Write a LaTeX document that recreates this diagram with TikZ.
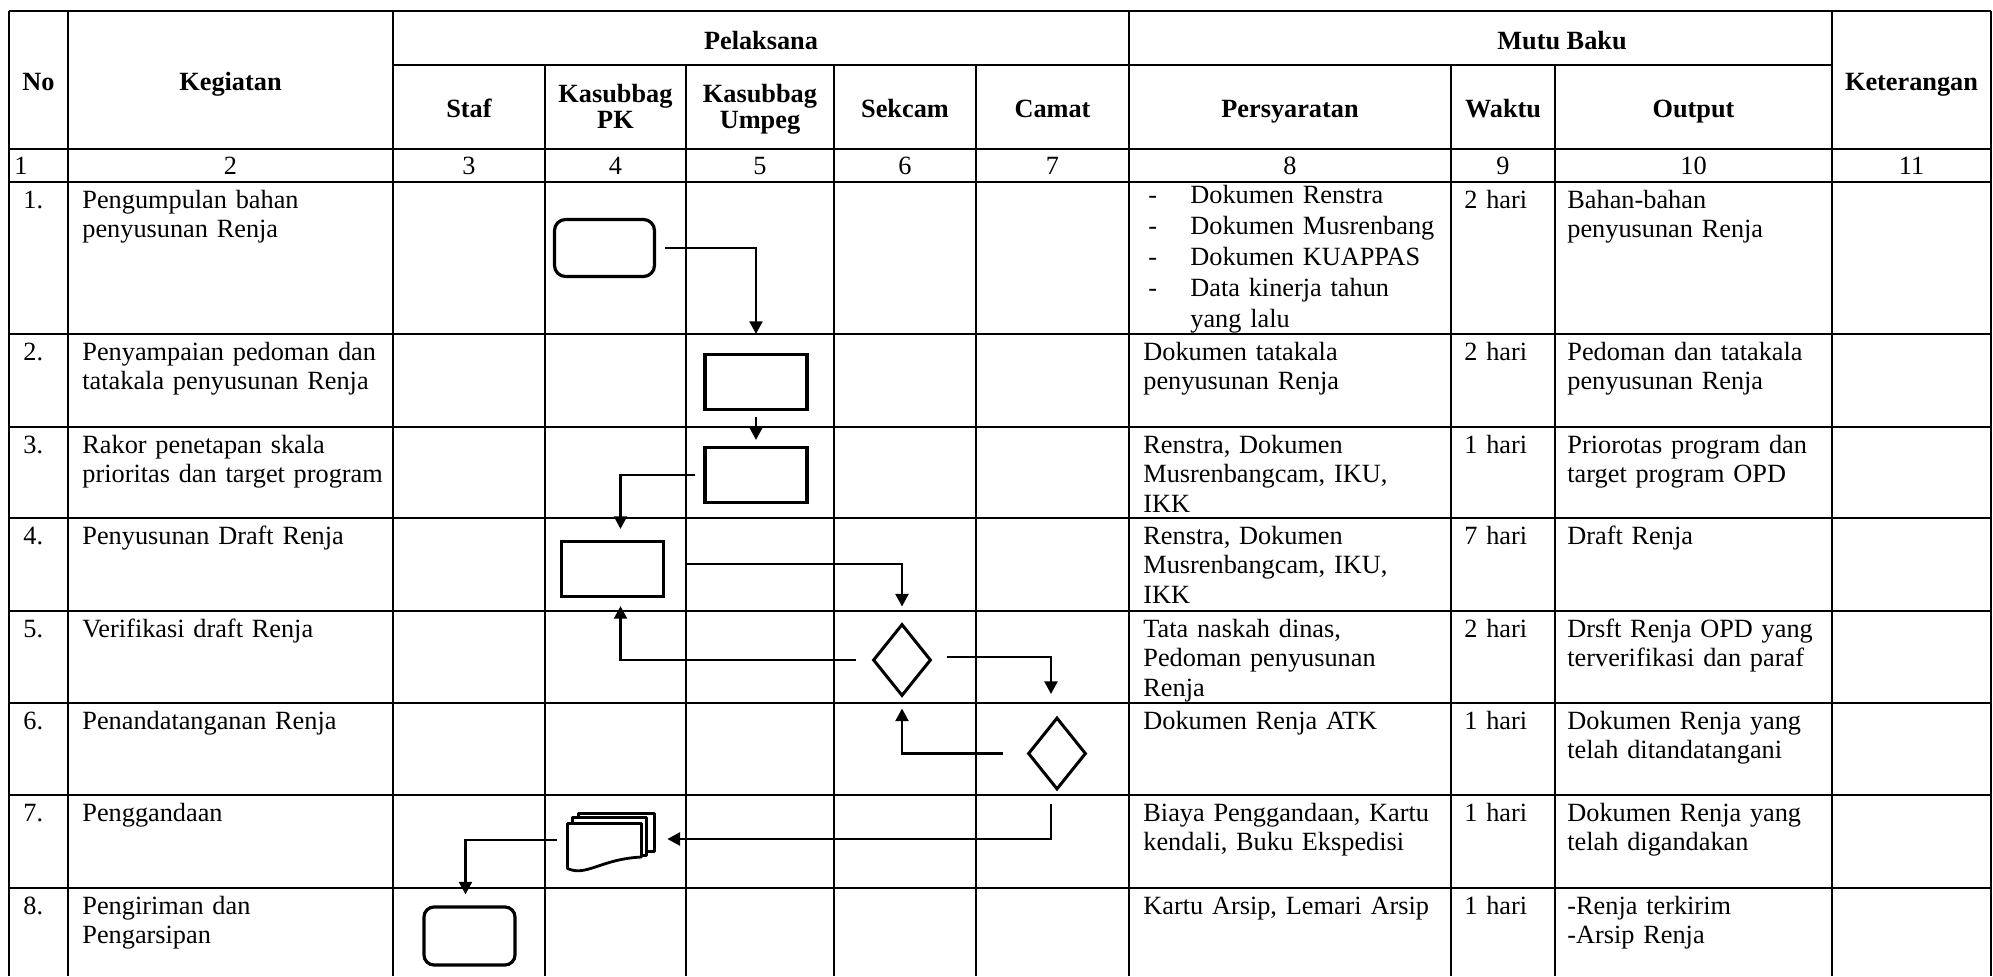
\documentclass[tikz,border=0pt]{standalone}
\usepackage{fontspec}
\setmainfont{Liberation Serif}
\usetikzlibrary{arrows.meta,shapes.geometric}
\begin{document}
\begin{tikzpicture}[x=0.5pt,y=-0.5pt,
  tl/.style={line width=0.75pt},
  txt/.style={anchor=base west, inner sep=0pt, align=left, font=\fontsize{13.15pt}{14.8pt}\selectfont},
  hd/.style={anchor=base, inner sep=0pt, align=center, font=\fontsize{13.15pt}{13.3pt}\selectfont\bfseries},
  num/.style={anchor=base, inner sep=0pt, font=\fontsize{13.15pt}{14.8pt}\selectfont},
  proc/.style={draw, line width=1.6pt, inner sep=0pt, minimum width=51pt, minimum height=27.5pt},
  term/.style={proc, rounded corners=5.5pt},
  dec/.style={draw, diamond, line width=1.5pt, inner sep=0pt, minimum width=29pt, minimum height=36pt},
  arr/.style={line width=1.15pt, -{Triangle[length=6.3pt,width=6.5pt]}},
]
\useasboundingbox (0,0) rectangle (1993,976);

% ---------- table rules ----------
\draw[tl] (9,11) -- (1991,11);
\draw[tl] (393,65) -- (1832,65);
\foreach \y in {149,182,334,427,518,611,703,795,888} \draw[tl] (9,\y) -- (1991,\y);
\foreach \x in {9,68,393,1129,1832,1991} \draw[tl] (\x,11) -- (\x,976);
\foreach \x in {545,686,834,976,1451,1555} \draw[tl] (\x,65) -- (\x,976);

% ---------- header ----------
\node[hd] (hNo) at (38.5,90) {No};
\node[hd] (hKeg) at (230.5,90) {Kegiatan};
\node[hd] (hPel) at (761,49) {Pelaksana};
\node[hd] (hMutu) at (1562,49) {Mutu Baku};
\node[hd] (hKet) at (1911.5,90) {Keterangan};
\node[hd] (hStaf) at (469,117) {Staf};
\node[hd, text width=70pt] (hPK) at (615.5,102) {Kasubbag\\PK};
\node[hd, text width=70pt] (hUm) at (760,102) {Kasubbag\\Umpeg};
\node[hd] (hSek) at (905,117) {Sekcam};
\node[hd] (hCam) at (1052.5,117) {Camat};
\node[hd] (hPers) at (1290,117) {Persyaratan};
\node[hd] (hWak) at (1503,117) {Waktu};
\node[hd] (hOut) at (1693.5,117) {Output};

% ---------- column numbers ----------
\node[num, anchor=base west] (n1) at (14,174) {1};
\node[num] (n2) at (230.5,174) {2};
\node[num] (n3) at (469,174) {3};
\node[num] (n4) at (615.5,174) {4};
\node[num] (n5) at (760,174) {5};
\node[num] (n6) at (905,174) {6};
\node[num] (n7) at (1052.5,174) {7};
\node[num] (n8) at (1290,174) {8};
\node[num] (n9) at (1503,174) {9};
\node[num] (n10) at (1693.5,174) {10};
\node[num] (n11) at (1911.5,174) {11};

% ---------- No column ----------
\node[txt, text width=20pt] (no1) at (23,208) {1.};
\node[txt, text width=20pt] (no2) at (23,360) {2.};
\node[txt, text width=20pt] (no3) at (23,453) {3.};
\node[txt, text width=20pt] (no4) at (23,544) {4.};
\node[txt, text width=20pt] (no5) at (23,637) {5.};
\node[txt, text width=20pt] (no6) at (23,729) {6.};
\node[txt, text width=20pt] (no7) at (23,821) {7.};
\node[txt, text width=20pt] (no8) at (23,914) {8.};

% ---------- Kegiatan ----------
\node[txt, text width=155pt] (k1) at (82,208) {Pengumpulan bahan\\penyusunan Renja};
\node[txt, text width=155pt] (k2) at (82,360) {Penyampaian pedoman dan\\tatakala penyusunan Renja};
\node[txt, text width=155pt] (k3) at (82,453) {Rakor penetapan skala\\prioritas dan target program};
\node[txt, text width=155pt] (k4) at (82,544) {Penyusunan Draft Renja};
\node[txt, text width=155pt] (k5) at (82,637) {Verifikasi draft Renja};
\node[txt, text width=155pt] (k6) at (82,729) {Penandatanganan Renja};
\node[txt, text width=155pt] (k7) at (82,821) {Penggandaan};
\node[txt, text width=155pt] (k8) at (82,914) {Pengiriman dan\\Pengarsipan};

% ---------- Persyaratan ----------
\node[txt, text width=155pt, font=\fontsize{13.15pt}{15.5pt}\selectfont] (p1) at (1148,203)
  {\makebox[21pt][l]{-}Dokumen Renstra\\\makebox[21pt][l]{-}Dokumen Musrenbang\\\makebox[21pt][l]{-}Dokumen KUAPPAS\\\makebox[21pt][l]{-}Data kinerja tahun\\\hspace*{21pt}yang lalu};
\node[txt, text width=155pt] (p2) at (1143,360) {Dokumen tatakala\\penyusunan Renja};
\node[txt, text width=155pt] (p3) at (1143,453) {Renstra, Dokumen\\Musrenbangcam, IKU,\\IKK};
\node[txt, text width=155pt] (p4) at (1143,544) {Renstra, Dokumen\\Musrenbangcam, IKU,\\IKK};
\node[txt, text width=155pt] (p5) at (1143,637) {Tata naskah dinas,\\Pedoman penyusunan\\Renja};
\node[txt, text width=155pt] (p6) at (1143,729) {Dokumen Renja ATK};
\node[txt, text width=155pt] (p7) at (1143,821) {Biaya Penggandaan, Kartu\\kendali, Buku Ekspedisi};
\node[txt, text width=155pt] (p8) at (1143,914) {Kartu Arsip, Lemari Arsip};

% ---------- Waktu ----------
\node[txt, text width=40pt] (w1) at (1464,208) {2 hari};
\node[txt, text width=40pt] (w2) at (1464,360) {2 hari};
\node[txt, text width=40pt] (w3) at (1464,453) {1 hari};
\node[txt, text width=40pt] (w4) at (1464,544) {7 hari};
\node[txt, text width=40pt] (w5) at (1464,637) {2 hari};
\node[txt, text width=40pt] (w6) at (1464,729) {1 hari};
\node[txt, text width=40pt] (w7) at (1464,821) {1 hari};
\node[txt, text width=40pt] (w8) at (1464,914) {1 hari};

% ---------- Output ----------
\node[txt, text width=132pt] (o1) at (1567,208) {Bahan-bahan\\penyusunan Renja};
\node[txt, text width=132pt] (o2) at (1567,360) {Pedoman dan tatakala\\penyusunan Renja};
\node[txt, text width=132pt] (o3) at (1567,453) {Priorotas program dan\\target program OPD};
\node[txt, text width=132pt] (o4) at (1567,544) {Draft Renja};
\node[txt, text width=132pt] (o5) at (1567,637) {Drsft Renja OPD yang\\terverifikasi dan paraf};
\node[txt, text width=132pt] (o6) at (1567,729) {Dokumen Renja yang\\telah ditandatangani};
\node[txt, text width=132pt] (o7) at (1567,821) {Dokumen Renja yang\\telah digandakan};
\node[txt, text width=132pt] (o8) at (1567,914) {-Renja terkirim\\-Arsip Renja};

% ---------- flowchart shapes ----------
\node[term, minimum width=50pt, minimum height=28.5pt] (s1) at (604.5,248) {};
\node[proc] (s2) at (756,382) {};
\node[proc] (s3) at (756,475) {};
\node[proc] (s4) at (612.5,569) {};
\node[dec] (d1) at (902,660) {};
\node[dec] (d2) at (1057,753.5) {};
\node[inner sep=0pt, minimum width=45.5pt, minimum height=31pt] (md) at (610.5,842) {};
\begin{scope}[shift={(md.center)}, line width=1.4pt, line join=round]
  \draw[fill=white] (-32,-28.5) -- (44,-28.5) -- (44,9.5) -- (-32,9.5) -- cycle;
  \draw[fill=white] (-38,-24.5) -- (36,-24.5) -- (36,13.5) -- (-38,13.5) -- cycle;
  \draw[fill=white] (-43,-18.5) -- (31,-18.5) -- (31,15)
     .. controls (-10,17) and (-24,35) .. (-43,26.5) -- cycle;
\end{scope}
\node[term, minimum width=45.5pt, minimum height=29pt, rounded corners=5pt] (s8) at (469.5,936) {};

% ---------- connectors ----------
\draw[arr, shorten <=4.5pt, shorten >=9.5pt] (s1.east) -| (s2.north);
\draw[arr, shorten <=3pt, shorten >=3pt] (s2.south) -- (s3.north);
\draw[arr, shorten <=4pt, shorten >=5.5pt] (s3.west) -| ([xshift=4pt]s4.north);
\draw[arr, shorten <=10pt, shorten >=8pt] ([yshift=2.5pt]s4.east) -| (d1.north);
\draw[arr, shorten <=8pt, shorten >=4pt] (d1.west) -| ([xshift=4pt]s4.south);
\draw[arr, shorten <=7pt, shorten >=11pt] ([yshift=1.5pt]d1.east) -| ([xshift=-3pt]d2.north);
\draw[arr, shorten <=12pt, shorten >=5.5pt] (d2.west) -| (d1.south);
\draw[arr, shorten <=6.5pt, shorten >=5.5pt] ([xshift=-3pt]d2.south) |- ([yshift=1.5pt]md.east);
\draw[arr, shorten <=4pt, shorten >=5.5pt] ([yshift=1pt]md.west) -| ([xshift=-2pt]s8.north);
\end{tikzpicture}
\end{document}
